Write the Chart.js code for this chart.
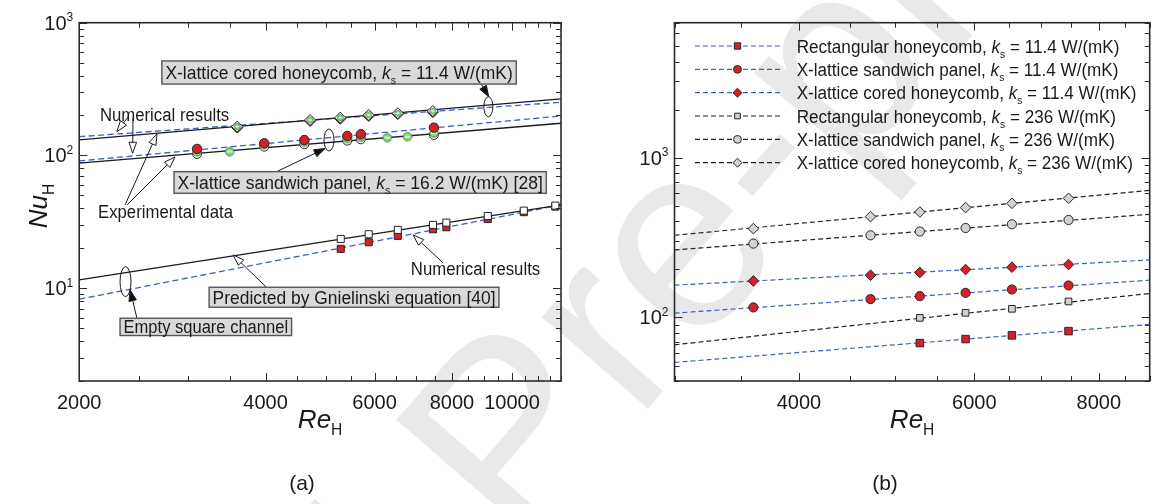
<!DOCTYPE html>
<html>
<head>
<meta charset="utf-8">
<script src="https://cdn.jsdelivr.net/npm/chart.js@4.4.1/dist/chart.umd.min.js"></script>
<style>
  html, body { margin: 0; padding: 0; background: #fff; }
  #wrap { position: relative; width: 1156px; height: 504px; overflow: hidden; }
  canvas { position: absolute; top: 0; }
</style>
</head>
<body>
<div id="wrap">
  <canvas id="mark" width="1156" height="504" style="left:0"></canvas>
  <canvas id="chartA" width="578" height="504" style="left:0"></canvas>
  <canvas id="chartB" width="578" height="504" style="left:578px"></canvas>
</div>
<script>
// ---------- panel (a) data ----------
const A_X_TICKS = [2000, 2500, 3000, 3500, 4000, 4500, 5000, 5500, 6000, 6500, 7000, 7500, 8000, 8500, 9000, 9500, 10000, 10500, 11000, 11500, 12000];
const A_X_LABELS = [2000, 4000, 6000, 8000, 10000];
const A_Y_TICKS = [2, 3, 4, 5, 6, 7, 8, 9, 10, 20, 30, 40, 50, 60, 70, 80, 90, 100, 200, 300, 400, 500, 600, 700, 800, 900, 1000];
const A_Y_LABELS = [10, 100, 1000];

const reA_fit = [2000, 12000];
const nuA_cored_black = [130.8, 266.5];
const nuA_cored_blue = [138.5, 251.6];
const nuA_sand_blue = [90.9, 198.4];
const nuA_sand_black = [87.4, 174.8];
const nuA_empty_black = [11.55, 42.4];
const nuA_empty_blue = [8.26, 42.4];

const reA_cored = [3600, 4720, 5280, 5870, 6540, 7450];
const nuA_cored_red = [162, 182, 189, 198.5, 205, 212];
const nuA_cored_white = [165, 185, 192.6, 201.8, 208, 216];
const nuA_cored_exp = [165, 185, 192.6, 201.8, 208, 216];

const reA_sand = [3100, 3980, 4620, 5420, 5700, 7480];
const nuA_sand_red = [112, 123.6, 130.8, 140.2, 144.4, 162];
const nuA_sand_white = [102.6, 116.5, 121.4, 129.3, 132.4, 142.7];
const reA_sand_exp = [3100, 3500, 3980, 4620, 5420, 5700, 6290, 6780, 7480];
const nuA_sand_exp = [106.2, 106.8, 120.6, 125.6, 133.8, 137, 136.1, 138.5, 147.7];

const reA_empty = [5290, 5870, 6540, 7455, 7835, 9140, 10450, 11750];
const nuA_empty_white = [23.5, 25.5, 27.5, 30.0, 31.2, 35.0, 38.4, 41.9];
const nuA_empty_red = [19.8, 22.2, 24.8, 27.8, 28.8, 33.2, 37.4, 41.2];

// ---------- panel (b) data ----------
const B_X_TICKS = [3000, 3500, 4000, 4500, 5000, 5500, 6000, 6500, 7000, 7500, 8000, 8500, 9000];
const B_X_LABELS = [4000, 6000, 8000];
const B_Y_TICKS = [40, 50, 60, 70, 80, 90, 100, 200, 300, 400, 500, 600, 700, 800, 900, 1000, 2000, 3000, 4000, 5000, 6000, 7000];
const B_Y_LABELS = [100, 1000];

const reB = [3600, 4720, 5290, 5880, 6545, 7460];
const reB_rect = [5290, 5880, 6545, 7460];
const nuB_rect_114 = [69.1, 73.2, 77.2, 82.1];
const nuB_sand_114 = [115.5, 130.2, 135.9, 142.5, 149.6, 158.5];
const nuB_cored_114 = [169.3, 183.8, 191.1, 199.5, 206.3, 214.4];
const nuB_rect_236 = [99.4, 106.9, 113.2, 125.9];
const nuB_sand_236 = [290, 326.7, 344.8, 363, 383, 407.5];
const nuB_cored_236 = [359.7, 427.6, 457, 487, 518, 556.8];

const reB_fit = [3000, 9000];
const fitB_rect_114 = [52.3, 90.4];
const fitB_sand_114 = [106.4, 171.1];
const fitB_cored_114 = [159.2, 229];
const fitB_rect_236 = [67.4, 141.3];
const fitB_sand_236 = [264.6, 442.2];
const fitB_cored_236 = [326.9, 624.6];

const B_LABELS = [
  'Rectangular honeycomb, <i>k</i><sub>s</sub> = 11.4 W/(mK)',
  'X-lattice sandwich panel, <i>k</i><sub>s</sub> = 11.4 W/(mK)',
  'X-lattice cored honeycomb, <i>k</i><sub>s</sub> = 11.4 W/(mK)',
  'Rectangular honeycomb, <i>k</i><sub>s</sub> = 236 W/(mK)',
  'X-lattice sandwich panel, <i>k</i><sub>s</sub> = 236 W/(mK)',
  'X-lattice cored honeycomb, <i>k</i><sub>s</sub> = 236 W/(mK)'
];

// annotations of panel (a), anchored in data units
const A_BOXES = [
  { text: 'X-lattice cored honeycomb, <i>k</i><sub>s</sub> = 11.4 W/(mK)', x0: 2720, x1: 10160, y0: 515, y1: 345 },
  { text: 'X-lattice sandwich panel, <i>k</i><sub>s</sub> = 16.2 W/(mK) [28]', x0: 2846, x1: 11360, y0: 75.5, y1: 51.9 },
  { text: 'Predicted by Gnielinski equation [40]', x0: 3242, x1: 9528, y0: 10.17, y1: 7.19 },
  { text: 'Empty square channel', x0: 2328, x1: 4406, y0: 5.94, y1: 4.40 }
];
const A_TEXTS = [
  { text: 'Numerical results', x: 2160, y: 182.8 },
  { text: 'Experimental data', x: 2145, y: 33.8 },
  { text: 'Numerical results', x: 6866, y: 12.6 }
];
const A_ARROWS = [
  { from: [8919, 345], to: [9170, 277], open: false },
  { from: [4159, 75.1], to: [4991, 112.9], open: false },
  { from: [2479, 5.94], to: [2417, 9.71], open: false },
  { from: [2406, 198.4], to: [2300, 151.1], open: true },
  { from: [2443, 191.6], to: [2440, 103.9], open: true },
  { from: [2372, 42.4], to: [2671, 145.2], open: true },
  { from: [2390, 42.4], to: [2856, 97.4], open: true },
  { from: [4012, 10.17], to: [3545, 17.8], open: true },
  { from: [7741, 15.5], to: [6924, 25.2], open: true }
];
const A_ELLIPSES = [
  { x: 9159, y: 233, rx: 4.5, ry: 10 },
  { x: 5064, y: 130.8, rx: 5, ry: 11 },
  { x: 2376, y: 11.21, rx: 5.5, ry: 15 }
];

const FONT = '"Liberation Sans", Arial, Helvetica, sans-serif';
const RED = '#d42027';
const BLUE = '#3f5fc4';
const GREY = '#d2d2d2';
const EDGE = '#262626';

const pts = (xs, ys) => xs.map((x, i) => ({ x, y: ys[i] }));

function parseRich(str) {
  const re = /<i>(.*?)<\/i>|<sub>(.*?)<\/sub>|<sup>(.*?)<\/sup>|([^<]+)/g;
  const out = [];
  let m;
  while ((m = re.exec(str))) {
    if (m[1] !== undefined) out.push({ t: m[1], kind: 'i' });
    else if (m[2] !== undefined) out.push({ t: m[2], kind: 'sub' });
    else if (m[3] !== undefined) out.push({ t: m[3], kind: 'sup' });
    else out.push({ t: m[4], kind: 'n' });
  }
  return out;
}

function drawRich(ctx, str, x, y, o) {
  const size = o.size || 18;
  const segs = parseRich(str).map(s => {
    const small = s.kind === 'sub' || s.kind === 'sup';
    const fs = small ? size * 0.6 : size;
    const font = (s.kind === 'i' ? 'italic ' : '') + fs.toFixed(1) + 'px ' + FONT;
    ctx.font = font;
    const dy = s.kind === 'sub' ? size * 0.27 : s.kind === 'sup' ? -size * 0.42 : 0;
    return { t: s.t, font, dy, w: ctx.measureText(s.t).width };
  });
  const natural = segs.reduce((t, s) => t + s.w, 0);
  const k = o.width ? o.width / natural : (o.squeeze || 1);
  const total = natural * k;
  ctx.save();
  ctx.translate(x, y);
  if (o.rotate) ctx.rotate(o.rotate);
  let cx = o.align === 'center' ? -total / 2 : o.align === 'right' ? -total : 0;
  ctx.scale(k, 1);
  cx /= k;
  ctx.textAlign = 'left';
  ctx.textBaseline = 'alphabetic';
  ctx.fillStyle = o.color || '#1a1a1a';
  segs.forEach(s => { ctx.font = s.font; ctx.fillText(s.t, cx, s.dy); cx += s.w; });
  ctx.restore();
  return total;
}

function arrow(ctx, x0, y0, x1, y1, open) {
  const ang = Math.atan2(y1 - y0, x1 - x0);
  const L = 11, W = 3.8;
  const bx = x1 - L * Math.cos(ang), by = y1 - L * Math.sin(ang);
  ctx.beginPath();
  ctx.moveTo(x0, y0);
  ctx.lineTo(bx, by);
  ctx.stroke();
  ctx.beginPath();
  ctx.moveTo(x1, y1);
  ctx.lineTo(bx + W * Math.sin(ang), by - W * Math.cos(ang));
  ctx.lineTo(bx - W * Math.sin(ang), by + W * Math.cos(ang));
  ctx.closePath();
  ctx.fillStyle = open ? '#fff' : '#111';
  ctx.fill();
  ctx.stroke();
}

// green experimental marker with a white error-bar stroke
function expMarker(r) {
  const s = Math.ceil(2 * r + 3);
  const c = document.createElement('canvas');
  c.width = s; c.height = s;
  const g = c.getContext('2d');
  g.beginPath();
  g.arc(s / 2, s / 2, r, 0, Math.PI * 2);
  g.fillStyle = '#86d886';
  g.fill();
  g.strokeStyle = '#3c7d3c';
  g.lineWidth = 0.9;
  g.stroke();
  g.strokeStyle = '#fff';
  g.lineWidth = 1.3;
  g.beginPath();
  g.moveTo(s / 2 - r + 1.3, s / 2);
  g.lineTo(s / 2 + r - 1.3, s / 2);
  g.stroke();
  return c;
}
const EXP = expMarker(4.2);
const EXP_S = expMarker(3);

function lineDs(xs, ys, color, dash, order) {
  return { data: pts(xs, ys), showLine: true, borderColor: color, borderWidth: 1.3,
           borderDash: dash, pointRadius: 0, order };
}
function markDs(xs, ys, style, r, fill, order) {
  return { data: pts(xs, ys), showLine: false, pointStyle: style, pointRadius: r,
           pointBackgroundColor: fill, pointBorderColor: EDGE, pointBorderWidth: 1,
           clip: false, order };
}

function axesPlugin(cfg) {
  return {
    id: 'axes' + cfg.panel,
    afterDraw(chart) {
      const { ctx, chartArea: a } = chart;
      const x = chart.scales.x, y = chart.scales.y;
      ctx.save();
      ctx.strokeStyle = '#2b2b2b';
      ctx.lineWidth = 1;
      ctx.beginPath();
      cfg.xTicks.forEach(v => {
        const px = Math.round(x.getPixelForValue(v)) + 0.5;
        const len = cfg.xLabels.includes(v) ? 8 : 5;
        ctx.moveTo(px, a.bottom); ctx.lineTo(px, a.bottom - len);
        ctx.moveTo(px, a.top); ctx.lineTo(px, a.top + len);
      });
      cfg.yTicks.forEach(v => {
        const py = Math.round(y.getPixelForValue(v)) + 0.5;
        const len = cfg.yLabels.includes(v) ? 8 : 5;
        ctx.moveTo(a.left, py); ctx.lineTo(a.left + len, py);
        ctx.moveTo(a.right, py); ctx.lineTo(a.right - len, py);
      });
      ctx.stroke();
      ctx.lineWidth = 1.6;
      ctx.strokeRect(a.left, a.top, a.right - a.left, a.bottom - a.top);
      cfg.xLabels.forEach(v => drawRich(ctx, String(v), x.getPixelForValue(v), a.bottom + 27.5, { size: 20, align: 'center' }));
      cfg.yLabels.forEach(v => drawRich(ctx, '10<sup>' + Math.round(Math.log10(v)) + '</sup>', a.left - 6, y.getPixelForValue(v) + 7, { size: 20, align: 'right' }));
      drawRich(ctx, '<i>Re</i><sub>H</sub>', (a.left + a.right) / 2, 428, { size: 26, align: 'center' });
      drawRich(ctx, '<i>Nu</i><sub>H</sub>', cfg.yTitleX, 206, { size: 26, align: 'center', rotate: -Math.PI / 2 });
      drawRich(ctx, '(' + cfg.panel + ')', cfg.panelX, 490, { size: 21, align: 'center' });
      ctx.restore();
    }
  };
}

const annotA = {
  id: 'annotA',
  afterDatasetsDraw(chart) {
    const { ctx } = chart;
    const X = v => chart.scales.x.getPixelForValue(v);
    const Y = v => chart.scales.y.getPixelForValue(v);
    ctx.save();
    ctx.strokeStyle = '#1a1a1a';
    ctx.lineWidth = 1;
    A_ELLIPSES.forEach(e => {
      ctx.beginPath();
      ctx.ellipse(X(e.x), Y(e.y), e.rx, e.ry, 0, 0, Math.PI * 2);
      ctx.stroke();
    });
    A_ARROWS.forEach(r => arrow(ctx, X(r.from[0]), Y(r.from[1]), X(r.to[0]), Y(r.to[1]), r.open));
    A_BOXES.forEach(b => {
      const x0 = X(b.x0), x1 = X(b.x1), y0 = Y(b.y0), y1 = Y(b.y1);
      ctx.fillStyle = '#d9d9d9';
      ctx.fillRect(x0, y0, x1 - x0, y1 - y0);
      ctx.strokeStyle = '#555';
      ctx.lineWidth = 1.4;
      ctx.strokeRect(x0, y0, x1 - x0, y1 - y0);
      drawRich(ctx, b.text, (x0 + x1) / 2, (y0 + y1) / 2 + 6.5, { size: 18, align: 'center', width: x1 - x0 - 7 });
    });
    A_TEXTS.forEach(t => drawRich(ctx, t.text, X(t.x), Y(t.y), { size: 18, squeeze: 0.93 }));
    ctx.restore();
  }
};

function legendB(entries) {
  return {
    id: 'legendB',
    afterDatasetsDraw(chart) {
      const { ctx, chartArea: a } = chart;
      ctx.save();
      entries.forEach((e, i) => {
        const cy = a.top + 23.3 + i * 23.34;
        const x0 = a.left + 20.5, x1 = a.left + 105.5, xm = a.left + 63;
        ctx.strokeStyle = e.line.borderColor;
        ctx.lineWidth = 1.2;
        ctx.setLineDash(e.line.borderDash);
        ctx.beginPath();
        ctx.moveTo(x0, cy); ctx.lineTo(x1, cy);
        ctx.stroke();
        ctx.setLineDash([]);
        ctx.fillStyle = e.mark.pointBackgroundColor;
        ctx.strokeStyle = EDGE;
        ctx.lineWidth = 1;
        const r = e.mark.pointRadius * 0.85;
        ctx.beginPath();
        if (e.mark.pointStyle === 'circle') ctx.arc(xm, cy, r, 0, Math.PI * 2);
        else if (e.mark.pointStyle === 'rect') { const h = r * Math.SQRT1_2; ctx.rect(xm - h, cy - h, 2 * h, 2 * h); }
        else { ctx.moveTo(xm, cy - r); ctx.lineTo(xm + r, cy); ctx.lineTo(xm, cy + r); ctx.lineTo(xm - r, cy); ctx.closePath(); }
        ctx.fill();
        ctx.stroke();
        drawRich(ctx, e.label, a.left + 122.2, cy + 6.7, { size: 18, squeeze: 0.95 });
      });
      ctx.restore();
    }
  };
}

// watermark behind both panels
(function () {
  const m = document.getElementById('mark').getContext('2d');
  m.font = '265px ' + FONT;
  const off = m.measureText('Journal Pr').width + m.measureText('e').width / 2;
  m.save();
  m.translate(690, 255);
  m.rotate(-49 * Math.PI / 180);
  m.fillStyle = '#e9e9e9';
  m.fillText('Journal Pre-proof', -off, 0.26 * 265);
  m.restore();
})();

const baseOptions = (xmin, xmax, ymin, ymax, padding) => ({
  responsive: false,
  animation: false,
  devicePixelRatio: 1,
  layout: { padding },
  plugins: { legend: { display: false }, tooltip: { enabled: false } },
  scales: {
    x: { type: 'logarithmic', min: xmin, max: xmax, display: false },
    y: { type: 'logarithmic', min: ymin, max: ymax, display: false }
  }
});

new Chart(document.getElementById('chartA'), {
  type: 'scatter',
  data: {
    datasets: [
      lineDs(reA_fit, nuA_cored_black, '#1a1a1a', [], 20),
      lineDs(reA_fit, nuA_cored_blue, BLUE, [6, 3.5], 20),
      lineDs(reA_fit, nuA_sand_blue, BLUE, [6, 3.5], 20),
      lineDs(reA_fit, nuA_sand_black, '#1a1a1a', [], 20),
      lineDs(reA_fit, nuA_empty_black, '#1a1a1a', [], 20),
      lineDs(reA_fit, nuA_empty_blue, BLUE, [6, 3.5], 20),
      markDs(reA_cored, nuA_cored_red, 'rectRot', 5.5, RED, 8),
      markDs(reA_cored, nuA_cored_white, 'rectRot', 5.5, '#fff', 7),
      markDs(reA_cored, nuA_cored_exp, EXP_S, 3, '#86d886', 3),
      markDs(reA_sand, nuA_sand_white, 'circle', 4.5, '#fff', 7),
      markDs(reA_sand_exp, nuA_sand_exp, EXP, 4, '#86d886', 5),
      markDs(reA_sand, nuA_sand_red, 'circle', 4.7, RED, 4),
      markDs(reA_empty, nuA_empty_red, 'rect', 5, RED, 8),
      markDs(reA_empty, nuA_empty_white, 'rect', 5, '#fff', 7)
    ]
  },
  options: baseOptions(2000, 12000, 2, 1000, { left: 79.2, right: 17, top: 22.7, bottom: 123 }),
  plugins: [annotA, axesPlugin({ panel: 'a', xTicks: A_X_TICKS, xLabels: A_X_LABELS, yTicks: A_Y_TICKS, yLabels: A_Y_LABELS, yTitleX: 47, panelX: 302 })]
});

const bLines = [
  lineDs(reB_fit, fitB_rect_114, BLUE, [5, 3], 20),
  lineDs(reB_fit, fitB_sand_114, BLUE, [5, 3], 20),
  lineDs(reB_fit, fitB_cored_114, BLUE, [5, 3], 20),
  lineDs(reB_fit, fitB_rect_236, '#222', [5, 3], 20),
  lineDs(reB_fit, fitB_sand_236, '#222', [5, 3], 20),
  lineDs(reB_fit, fitB_cored_236, '#222', [5, 3], 20)
];
bLines.forEach(d => { d.borderWidth = 1.2; });
const bMarks = [
  markDs(reB_rect, nuB_rect_114, 'rect', 5.3, RED, 5),
  markDs(reB, nuB_sand_114, 'circle', 4.6, RED, 5),
  markDs(reB, nuB_cored_114, 'rectRot', 5.3, RED, 5),
  markDs(reB_rect, nuB_rect_236, 'rect', 4.7, GREY, 5),
  markDs(reB, nuB_sand_236, 'circle', 4.6, GREY, 5),
  markDs(reB, nuB_cored_236, 'rectRot', 5.3, GREY, 5)
];

new Chart(document.getElementById('chartB'), {
  type: 'scatter',
  data: { datasets: bLines.concat(bMarks) },
  options: baseOptions(3000, 9000, 40, 7000, { left: 96.5, right: 1, top: 22.7, bottom: 123 }),
  plugins: [
    legendB(B_LABELS.map((label, i) => ({ label, line: bLines[i], mark: bMarks[i] }))),
    axesPlugin({ panel: 'b', xTicks: B_X_TICKS, xLabels: B_X_LABELS, yTicks: B_Y_TICKS, yLabels: B_Y_LABELS, yTitleX: 627, panelX: 307 })
  ]
});
</script>
</body>
</html>
